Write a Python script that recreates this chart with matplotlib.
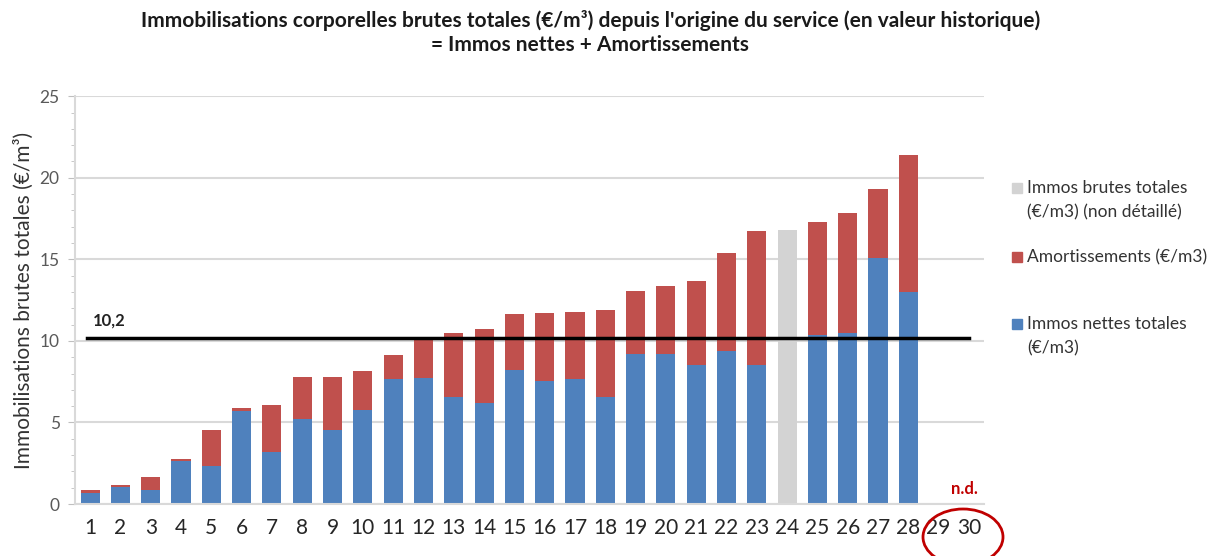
import numpy as np
import matplotlib
matplotlib.use("Agg")
import matplotlib.pyplot as plt
from matplotlib.patches import Ellipse, Rectangle

plt.rcParams["font.family"] = ["Lato", "DejaVu Sans"]

# services 1..30 (29 and 30: n.d.)
services = list(range(1, 31))
immos_nettes = [0.67, 1.04, 0.88, 2.65, 2.30, 5.71, 3.16, 5.20, 4.51, 5.79,
                7.65, 7.75, 6.53, 6.18, 8.22, 7.54, 7.67, 6.59, 9.18, 9.20,
                8.52, 9.36, 8.50, np.nan, 10.36, 10.50, 15.10, 12.99, np.nan, np.nan]
amortissements = [0.17, 0.14, 0.75, 0.14, 2.21, 0.20, 2.88, 2.57, 3.28, 2.39,
                  1.49, 2.40, 3.97, 4.53, 3.44, 4.16, 4.10, 5.32, 3.85, 4.14,
                  5.16, 6.02, 8.26, np.nan, 6.94, 7.35, 4.23, 8.40, np.nan, np.nan]
non_detaille = [np.nan] * 23 + [16.82] + [np.nan] * 6
moyenne = 10.2

legend_labels = [["Immos brutes totales", "(€/m3) (non détaillé)"],
                 ["Amortissements (€/m3)"],
                 ["Immos nettes totales", "(€/m3)"]]

BLUE = "#4F81BD"
RED = "#C0504D"
GREY = "#D3D3D3"
W, H = 1217, 556

fig = plt.figure(figsize=(W / 100, H / 100), dpi=100)
ax = fig.add_axes([0.0616, 0.0935, 0.7470, 0.7335])

x = np.array(services)
nettes = np.array(immos_nettes)
amort = np.array(amortissements)
w = 0.63
ax.bar(x, nettes, width=w, color=BLUE, zorder=2)
ax.bar(x, amort, width=w, bottom=nettes, color=RED, zorder=2)
ax.bar(x, non_detaille, width=w, color=GREY, zorder=2)

ax.plot([0.9, 30.0], [moyenne, moyenne], color="black", lw=2.5, zorder=3)
ax.annotate(f"{moyenne:.1f}".replace(".", ","), xy=(1.1, moyenne), xytext=(0, 9),
            textcoords="offset points", fontsize=12, fontweight="bold", color="#222222")

ax.set_xlim(0.5, 30.5)
ax.set_ylim(0, 25)
ax.set_xticks(x)
ax.set_xticklabels([str(s) for s in services], fontsize=15, color="#262626")
ax.set_yticks(np.arange(0, 26, 5))
ax.set_yticks(np.arange(0, 26, 1), minor=True)
ax.tick_params(axis="y", which="major", length=5, color="#bfbfbf", labelsize=12.5,
               labelcolor="#595959", pad=6)
ax.tick_params(axis="y", which="minor", length=3, color="#bfbfbf")
ax.tick_params(axis="x", length=0, pad=10)
ax.grid(axis="y", color="#d9d9d9", lw=1.5, zorder=0)
for s in ["top", "right"]:
    ax.spines[s].set_visible(False)
for s in ["left", "bottom"]:
    ax.spines[s].set_color("#d9d9d9")
    ax.spines[s].set_linewidth(1.5)
ax.set_ylabel("Immobilisations brutes totales (€/m³)", fontsize=15, color="#333333", labelpad=4)

ax.text(29.85, 0.45, "n.d.", color="#C00000", fontsize=12, fontweight="bold", ha="center", va="bottom")
fig.add_artist(Ellipse((9.63, 0.19), 0.80, 0.56, transform=fig.dpi_scale_trans,
                       fill=False, edgecolor="#C00000", lw=2))

fig.suptitle("Immobilisations corporelles brutes totales (€/m³) depuis l'origine du service (en valeur historique)\n"
             "= Immos nettes + Amortissements",
             x=0.485, y=0.982, fontsize=15, fontweight="bold", color="#1a1a1a", linespacing=1.25)

# legend drawn by hand: marker aligned with first text line, as in the original
legend_colors = [GREY, RED, BLUE]
legend_rows = [188, 257, 324]
for col, lines, y0 in zip(legend_colors, legend_labels, legend_rows):
    fig.add_artist(Rectangle(((1012) / W, 1 - (y0 + 5) / H), 10 / W, 10 / H,
                             transform=fig.transFigure, color=col))
    for i, line in enumerate(lines):
        fig.text(1027 / W, 1 - (y0 + 24 * i) / H, line, fontsize=12.5,
                 color="#333333", va="center", ha="left")

fig.savefig("out.png", dpi=100)
